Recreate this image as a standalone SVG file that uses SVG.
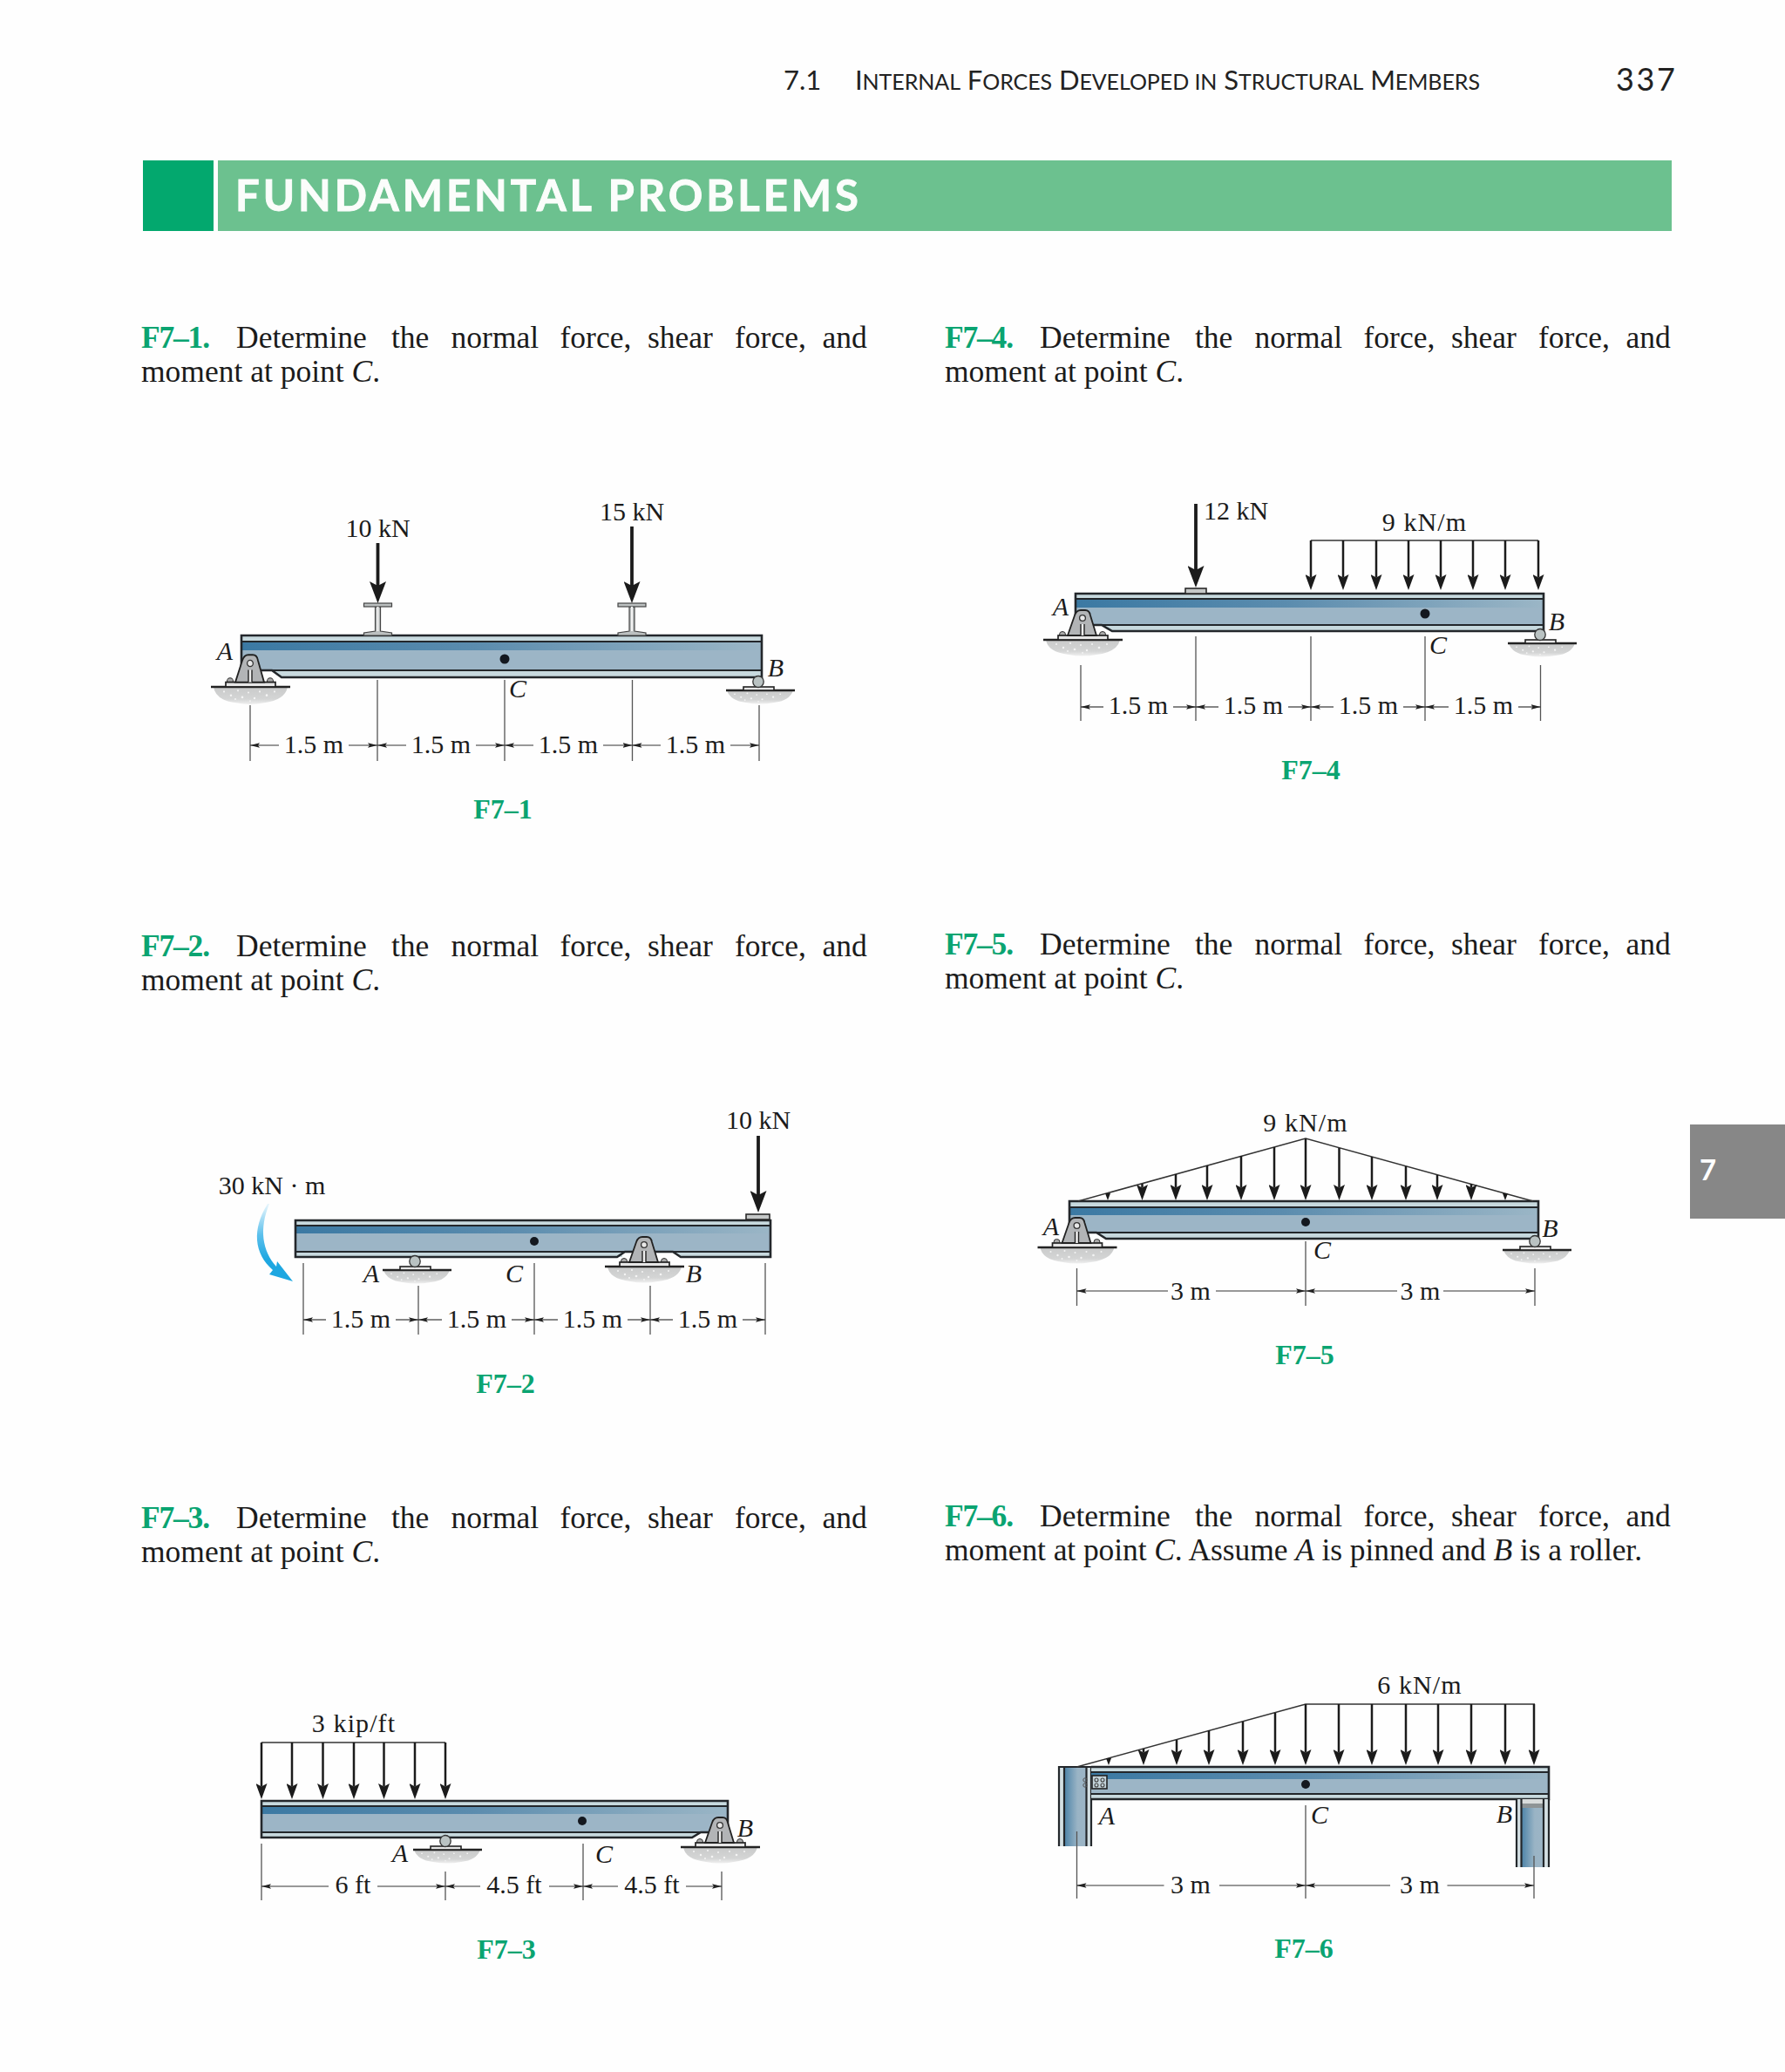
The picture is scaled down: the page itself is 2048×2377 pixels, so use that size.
<svg xmlns="http://www.w3.org/2000/svg" xmlns:xlink="http://www.w3.org/1999/xlink" width="2048" height="2377" viewBox="0 0 2048 2377">
<style>
.s{font-family:"Liberation Serif","Times New Roman",serif;fill:#1b1b1b}
.t{font-size:30px;text-anchor:middle}
.u{font-size:30px;text-anchor:middle;letter-spacing:1.1px}
.i{font-size:30px;font-style:italic;text-anchor:middle}
.p{font-size:35.5px}
.b{font-weight:700;fill:#0aa471;letter-spacing:-1.2px}
.cap{font-size:32px;font-weight:700;fill:#0aa471;text-anchor:middle}
.h{font-family:Lato,"Open Sans",sans-serif;fill:#222}
.web{fill:#9cb5c6}
.fl{fill:#c7d9de}
.band{fill:url(#band)}
.ol{fill:none;stroke:#23272b;stroke-width:2.6}
.in{fill:none;stroke:#23272b;stroke-width:2.2}
.dot{fill:#14181f}
.ext{stroke:#555;stroke-width:1.3;fill:none}
.dim{stroke:#333;stroke-width:1.2;fill:none}
.dl{marker-start:url(#da)}
.dr{marker-end:url(#da)}
.big{stroke:#1b1b1b;stroke-width:3.8;fill:none;marker-end:url(#ah)}
.sm{stroke:#1b1b1b;stroke-width:2.5;fill:none;marker-end:url(#as)}
.load{stroke:#333;stroke-width:1.5;fill:none}
.pl{fill:#c5c8c8;stroke:#2a2a2a;stroke-width:1.6}
.gl{stroke:#222;stroke-width:2.4;fill:none}
</style>
<defs>
<linearGradient id="band" x1="0" x2="1" y1="0" y2="0"><stop offset="0" stop-color="#3b79a3"/><stop offset=".45" stop-color="#5b8cae"/><stop offset="1" stop-color="#9bb6c6"/></linearGradient>
<linearGradient id="gnd" x1="0" x2="0" y1="0" y2="1"><stop offset="0" stop-color="#c9caca"/><stop offset=".7" stop-color="#d4d5d5"/><stop offset="1" stop-color="#f0f0f0"/></linearGradient>
<linearGradient id="col" x1="0" x2="1" y1="0" y2="0"><stop offset="0" stop-color="#4c83a8"/><stop offset=".6" stop-color="#9ab4c5"/><stop offset="1" stop-color="#9cb5c6"/></linearGradient>
<linearGradient id="mom" gradientUnits="userSpaceOnUse" x1="308" y1="1382" x2="308" y2="1445"><stop offset="0" stop-color="#e6f5fc"/><stop offset=".55" stop-color="#5cc0ec"/><stop offset="1" stop-color="#1ea7e1"/></linearGradient>
<marker id="da" viewBox="0 -3 11 6" refX="11" refY="0" markerWidth="11" markerHeight="6" markerUnits="userSpaceOnUse" orient="auto-start-reverse"><path d="M0-2.800L11 0L0 2.800L2 0Z" fill="#222"/></marker>
<marker id="ah" viewBox="0 -9.500 25 19" refX="5" refY="0" markerWidth="25" markerHeight="19" markerUnits="userSpaceOnUse" orient="auto"><path d="M0-9.500L25 0L0 9.500L5 0Z" fill="#1b1b1b"/></marker>
<marker id="as" viewBox="0 -6.500 18 13" refX="3.500" refY="0" markerWidth="18" markerHeight="13" markerUnits="userSpaceOnUse" orient="auto"><path d="M0-6.500L18 0L0 6.500L3.500 0Z" fill="#1b1b1b"/></marker>
<g id="specks" fill="#f4f4f4"><circle cx="-30" cy="5" r="1"/><circle cx="-22" cy="9" r="1.2"/><circle cx="-14" cy="4" r="1"/><circle cx="-9" cy="11" r="1.3"/><circle cx="-2" cy="6" r="1"/><circle cx="5" cy="12" r="1.2"/><circle cx="11" cy="5" r="1"/><circle cx="19" cy="9" r="1.3"/><circle cx="28" cy="5" r="1"/><circle cx="-17" cy="13" r="1"/><circle cx="0" cy="15" r=".9"/></g>
<g id="pin">
<path d="M-42 0Q-40 14-16 17Q0 20 16 17Q40 14 43 0Z" fill="url(#gnd)"/><use href="#specks"/>
<path class="gl" d="M-45 0H46"/>
<circle cx="-23" cy="-6" r="3.500" fill="#aaa" stroke="#333"/><circle cx="23" cy="-6" r="3.500" fill="#aaa" stroke="#333"/>
<rect x="-28" y="-5" width="57" height="5" fill="#e6e6e6" stroke="#222" stroke-width="1.7"/>
<path d="M-17-5L-9-28Q-7-34-2-34H3Q8-34 9-28L16-5Z" fill="#b2b4b6" stroke="#222" stroke-width="1.8"/>
<circle cx="0" cy="-25" r="3.400" fill="#e8e8e8" stroke="#333" stroke-width="1.300"/>
<rect x="-2" y="-18" width="4" height="13" fill="#eee"/><path d="M-2-18V-5M2-18V-5" stroke="#222" stroke-width="1.400"/>
</g>
<g id="roller">
<path d="M-36 0Q-32 12-14 14Q2 17 18 14Q36 12 40 0Z" fill="url(#gnd)"/><use href="#specks" transform="scale(.9 .85)"/>
<path class="gl" d="M-37 0H42"/>
<rect x="-17" y="-4" width="35" height="4" fill="#e6e6e6" stroke="#222" stroke-width="1.600"/>
<ellipse cx="0" cy="-10" rx="6.200" ry="6.500" fill="#b9c2c2" stroke="#333" stroke-width="1.300"/>
</g>
<g id="ibeam">
<path d="M-3-33V-5L-16-3V0H16V-3L3-5V-33Z" fill="#bcc0c0" stroke="#444" stroke-width="1.200"/>
<rect x="-16" y="-37" width="32" height="4" fill="#bcc0c0" stroke="#444" stroke-width="1.200"/>
<path d="M0-33V-5" stroke="#f2f2f2" stroke-width="2"/>
</g>
</defs>
<rect id="page" width="2048" height="2377" fill="#fefefe"/>

<g id="header">
<text class="h" x="899" y="103" font-size="31">7.1</text>
<text class="h" x="981" y="103" font-size="31" textLength="717" lengthAdjust="spacing">I<tspan font-size="25">NTERNAL</tspan> F<tspan font-size="25">ORCES</tspan> D<tspan font-size="25">EVELOPED IN</tspan> S<tspan font-size="25">TRUCTURAL</tspan> M<tspan font-size="25">EMBERS</tspan></text>
<text class="h" x="1854" y="104" font-size="36" textLength="68" lengthAdjust="spacing">337</text>
</g>
<g id="banner">
<rect x="164" y="184" width="81" height="81" fill="#03a86e"/>
<rect x="250" y="184" width="1668" height="81" fill="#6cc18f"/>
<text x="270" y="242" font-family="Lato,'Open Sans',sans-serif" font-weight="700" font-size="49" fill="#fbfdfb" stroke="#fbfdfb" stroke-width=".9" textLength="715" lengthAdjust="spacing">FUNDAMENTAL PROBLEMS</text>
</g>
<g id="tab">
<rect x="1939" y="1290" width="109" height="108" fill="#878787"/>
<text x="1950" y="1354" font-family="Lato,'Open Sans',sans-serif" font-weight="700" font-size="33" fill="#fff">7</text>
</g>

<g id="problem-text">
<text class="s p" y="399"><tspan class="b" x="162">F7–1.</tspan><tspan x="271">Determine</tspan><tspan x="449">the</tspan><tspan x="517.600">normal</tspan><tspan x="642.500">force,</tspan><tspan x="743">shear</tspan><tspan x="843">force,</tspan><tspan x="943.600">and</tspan></text>
<text class="s p" x="162" y="438">moment at point <tspan font-style="italic">C</tspan>.</text>
<text class="s p" y="399"><tspan class="b" x="1084">F7–4.</tspan><tspan x="1193">Determine</tspan><tspan x="1371">the</tspan><tspan x="1439.600">normal</tspan><tspan x="1564.500">force,</tspan><tspan x="1665">shear</tspan><tspan x="1765">force,</tspan><tspan x="1865.600">and</tspan></text>
<text class="s p" x="1084" y="438">moment at point <tspan font-style="italic">C</tspan>.</text>
<text class="s p" y="1097"><tspan class="b" x="162">F7–2.</tspan><tspan x="271">Determine</tspan><tspan x="449">the</tspan><tspan x="517.600">normal</tspan><tspan x="642.500">force,</tspan><tspan x="743">shear</tspan><tspan x="843">force,</tspan><tspan x="943.600">and</tspan></text>
<text class="s p" x="162" y="1136">moment at point <tspan font-style="italic">C</tspan>.</text>
<text class="s p" y="1095"><tspan class="b" x="1084">F7–5.</tspan><tspan x="1193">Determine</tspan><tspan x="1371">the</tspan><tspan x="1439.600">normal</tspan><tspan x="1564.500">force,</tspan><tspan x="1665">shear</tspan><tspan x="1765">force,</tspan><tspan x="1865.600">and</tspan></text>
<text class="s p" x="1084" y="1134">moment at point <tspan font-style="italic">C</tspan>.</text>
<text class="s p" y="1753"><tspan class="b" x="162">F7–3.</tspan><tspan x="271">Determine</tspan><tspan x="449">the</tspan><tspan x="517.600">normal</tspan><tspan x="642.500">force,</tspan><tspan x="743">shear</tspan><tspan x="843">force,</tspan><tspan x="943.600">and</tspan></text>
<text class="s p" x="162" y="1792">moment at point <tspan font-style="italic">C</tspan>.</text>
<text class="s p" y="1751"><tspan class="b" x="1084">F7–6.</tspan><tspan x="1193">Determine</tspan><tspan x="1371">the</tspan><tspan x="1439.600">normal</tspan><tspan x="1564.500">force,</tspan><tspan x="1665">shear</tspan><tspan x="1765">force,</tspan><tspan x="1865.600">and</tspan></text>
<text class="s p" x="1084" y="1790" textLength="800" lengthAdjust="spacing">moment at point <tspan font-style="italic">C</tspan>. Assume <tspan font-style="italic">A</tspan> is pinned and <tspan font-style="italic">B</tspan> is a roller.</text>
</g>

<!-- F7-1 -->
<g id="f71-beam">
<rect class="web" x="277" y="736" width="597" height="33"/><rect class="band" x="277" y="736" width="597" height="10"/>
<rect class="fl" x="277" y="729" width="597" height="7"/><path class="fl" d="M312 769L323 777H874V769Z"/>
<path class="ol" d="M277 769V729H874V777H323L312 769H277"/><path class="in" d="M277 736H874M312 769H874"/>
<ellipse class="dot" cx="579" cy="756" rx="5.500" ry="5.500"/>
</g>
<g id="f71-stub1"><use href="#ibeam" transform="translate(433.500 729)"/></g>
<g id="f71-stub2"><use href="#ibeam" transform="translate(725 729)"/></g>
<g id="f71-pinA"><use href="#pin" transform="translate(287 788) scale(1 1.080)"/></g>
<g id="f71-rollerB"><use href="#roller" transform="translate(870 792)"/></g>

<!-- F7-4 -->
<g id="f74-beam">
<rect class="web" x="1234" y="687" width="537" height="30"/><rect class="band" x="1234" y="687" width="537" height="10"/>
<rect class="fl" x="1234" y="681" width="537" height="6"/><path class="fl" d="M1264 717L1276 724H1771V717Z"/>
<path class="ol" d="M1234 717V681H1771V724H1276L1264 717H1234"/><path class="in" d="M1234 687H1771M1264 717H1771"/>
<ellipse class="dot" cx="1635" cy="704" rx="5.500" ry="5.500"/>
<rect class="pl" x="1360" y="675" width="24" height="6"/>
</g>
<g id="f74-pinA"><use href="#pin" transform="translate(1242 734)"/></g>
<g id="f74-rollerB"><use href="#roller" transform="translate(1767 738)"/></g>

<!-- F7-2 -->
<g id="f72-beam">
<rect class="web" x="339" y="1406" width="545" height="30"/><rect class="band" x="339" y="1406" width="545" height="9"/>
<rect class="fl" x="339" y="1400" width="545" height="6"/><rect class="fl" x="339" y="1436" width="375" height="6"/><path class="fl" d="M772 1436L781 1442H884V1436Z"/>
<path class="ol" d="M339 1400H884V1442H781L772 1436H717L708 1442H339Z"/><path class="in" d="M339 1406H884M339 1436H884"/>
<ellipse class="dot" cx="613" cy="1424" rx="5" ry="5"/>
<rect class="pl" x="856" y="1393" width="27" height="6"/>
</g>
<g id="f72-rollerA"><use href="#roller" transform="translate(476 1457)"/></g>
<g id="f72-pinB"><use href="#pin" transform="translate(739 1453)"/></g>
<path id="f72-moment" fill="url(#mom)" d="M307 1381C289 1410 291 1438 313 1457L309 1462L336 1470L318 1447L317 1453C301 1435 297 1410 309 1381Z"/>

<!-- F7-5 -->
<g id="f75-beam">
<rect class="web" x="1227" y="1385" width="538" height="29"/><rect class="band" x="1227" y="1385" width="538" height="9"/>
<rect class="fl" x="1227" y="1378" width="538" height="7"/><path class="fl" d="M1258 1414L1269 1421H1765V1414Z"/>
<path class="ol" d="M1227 1414V1378H1765V1421H1269L1258 1414H1227"/><path class="in" d="M1227 1385H1765M1258 1414H1765"/>
<ellipse class="dot" cx="1498" cy="1402" rx="5" ry="5"/>
</g>
<g id="f75-pinA"><use href="#pin" transform="translate(1235.500 1431)"/></g>
<g id="f75-rollerB"><use href="#roller" transform="translate(1761 1434)"/></g>

<!-- F7-3 -->
<g id="f73-beam">
<rect class="web" x="300" y="2072" width="535" height="30"/><rect class="band" x="300" y="2072" width="535" height="9"/>
<rect class="fl" x="300" y="2066" width="535" height="6"/><path class="fl" d="M300 2102V2108H794L804 2102Z"/>
<path class="ol" d="M835 2102V2066H300V2108H794L804 2102H835"/><path class="in" d="M300 2072H835M300 2102H804"/>
<ellipse class="dot" cx="668" cy="2089" rx="5" ry="5"/>
</g>
<g id="f73-rollerA"><use href="#roller" transform="translate(511 2122)"/></g>
<g id="f73-pinB"><use href="#pin" transform="translate(826 2119)"/></g>

<!-- F7-6 -->
<g id="f76-columnA">
<rect x="1215" y="2027" width="37" height="91" fill="#d4e0e4"/><rect x="1221" y="2027" width="25.500" height="91" fill="url(#col)"/>
<path class="in" d="M1215 2118V2027H1252V2118M1221 2027V2118M1246.500 2027V2118"/>
<circle cx="1245" cy="2042" r="2.200" fill="none" stroke="#555"/><circle cx="1245" cy="2048" r="2.200" fill="none" stroke="#555"/>
</g>
<g id="f76-beam">
<rect class="web" x="1252" y="2033" width="525" height="25"/><rect class="band" x="1252" y="2033" width="525" height="8"/>
<rect class="fl" x="1252" y="2027" width="525" height="6"/><rect class="fl" x="1252" y="2058" width="525" height="6"/>
<path class="ol" d="M1252 2027H1777V2064H1252"/><path class="in" d="M1252 2033H1777M1252 2058H1777"/>
<ellipse class="dot" cx="1498" cy="2047" rx="5" ry="5"/>
</g>
<g id="f76-joint">
<rect x="1253" y="2037" width="17" height="15" fill="#c3d3da" stroke="#222" stroke-width="1.600"/>
<g fill="none" stroke="#444" stroke-width="1.100"><circle cx="1258" cy="2042" r="2"/><circle cx="1265" cy="2042" r="2"/><circle cx="1258" cy="2048" r="2"/><circle cx="1265" cy="2048" r="2"/></g>
</g>
<g id="f76-columnB">
<rect x="1740" y="2064" width="37" height="78" fill="#d4e0e4"/><rect x="1745.500" y="2074" width="25.500" height="68" fill="url(#col)"/>
<rect x="1745.500" y="2064" width="25.500" height="5" fill="#d8dcdc"/><rect x="1745.500" y="2069" width="25.500" height="5" fill="#8e9496"/>
<path class="in" d="M1740 2064V2142M1745.500 2064V2142M1771 2064V2142M1777 2064V2142"/>
</g>

<g id="connectors">
<g id="f71-conn">
<path class="ext" d="M287 809V873M433 780V873M579 780V873M725.500 780V873M871 809V873"/>
<path class="dim dl" d="M287 855H320"/><path class="dim dl" d="M433 855H466"/><path class="dim dl" d="M579 855H612"/><path class="dim dl" d="M725.500 855H758"/>
<path class="dim dr" d="M400 855H433"/><path class="dim dr" d="M546 855H579"/><path class="dim dr" d="M692 855H725.500"/><path class="dim dr" d="M838 855H871"/>
<path class="big" d="M433.500 623V672"/><path class="big" d="M725 604V672"/>
</g>
<g id="f74-conn">
<path class="ext" d="M1240 763V827M1372 730V827M1504 730V827M1635 730V827M1767.500 763V827"/>
<path class="dim dl" d="M1240 811H1266"/><path class="dim dl" d="M1372 811H1398"/><path class="dim dl" d="M1504 811H1530"/><path class="dim dl" d="M1635 811H1662"/>
<path class="dim dr" d="M1346 811H1372"/><path class="dim dr" d="M1478 811H1504"/><path class="dim dr" d="M1610 811H1635"/><path class="dim dr" d="M1742 811H1767.500"/>
<path class="big" d="M1372 578V654"/>
<path class="load" d="M1504 620H1765"/>
<path class="sm" d="M1504 620V662.500"/><path class="sm" d="M1541 620V662.500"/><path class="sm" d="M1579 620V662.500"/><path class="sm" d="M1616 620V662.500"/><path class="sm" d="M1653 620V662.500"/><path class="sm" d="M1690 620V662.500"/><path class="sm" d="M1727 620V662.500"/><path class="sm" d="M1765 620V662.500"/>
</g>
<g id="f72-conn">
<path class="ext" d="M348 1449V1531M480 1475V1531M613 1449V1531M746 1475V1531M878 1449V1531"/>
<path class="dim dl" d="M348 1514H374"/><path class="dim dl" d="M480 1514H507"/><path class="dim dl" d="M613 1514H640"/><path class="dim dl" d="M746 1514H772"/>
<path class="dim dr" d="M454 1514H480"/><path class="dim dr" d="M587 1514H613"/><path class="dim dr" d="M720 1514H746"/><path class="dim dr" d="M852 1514H878"/>
<path class="big" d="M870 1303V1371"/>
</g>
<g id="f75-conn">
<path class="ext" d="M1235.500 1455V1498M1498 1424V1498M1761 1455V1498"/>
<path class="dim dl" d="M1235.500 1481H1340"/><path class="dim dl" d="M1498 1481H1603"/>
<path class="dim dr" d="M1395 1481H1498"/><path class="dim dr" d="M1656 1481H1761"/>
<path class="load" d="M1237 1378L1498 1306L1759 1378"/>
<path class="sm" d="M1310.500 1358V1362.500"/><path class="sm" d="M1349 1347V1362.500"/><path class="sm" d="M1385 1337V1362.500"/><path class="sm" d="M1424 1326V1362.500"/><path class="sm" d="M1462 1316V1362.500"/><path class="sm" d="M1498 1306V1362.500"/><path class="sm" d="M1536.500 1317V1362.500"/><path class="sm" d="M1574 1327V1362.500"/><path class="sm" d="M1613 1338V1362.500"/><path class="sm" d="M1649 1348V1362.500"/><path class="sm" d="M1688 1358V1362.500"/>
<path d="M1268 1369L1274 1369L1271 1377Z" fill="#1b1b1b"/><path d="M1724 1369L1730 1369L1727 1377Z" fill="#1b1b1b"/>
</g>
<g id="f73-conn">
<path class="ext" d="M300 2115V2180M511 2147V2180M669 2115V2180M828 2147V2180"/>
<path class="dim dl" d="M300 2164H377"/><path class="dim dl" d="M511 2164H551"/><path class="dim dl" d="M669 2164H709"/>
<path class="dim dr" d="M433 2164H511"/><path class="dim dr" d="M630 2164H669"/><path class="dim dr" d="M787 2164H828"/>
<path class="load" d="M300 1999H511"/>
<path class="sm" d="M300 1999V2049.500"/><path class="sm" d="M335 1999V2049.500"/><path class="sm" d="M370.500 1999V2049.500"/><path class="sm" d="M406 1999V2049.500"/><path class="sm" d="M440.500 1999V2049.500"/><path class="sm" d="M476 1999V2049.500"/><path class="sm" d="M511 1999V2049.500"/>
</g>
<g id="f76-conn">
<path class="ext" d="M1235.500 2101V2178M1498 2071V2178M1760 2129V2178"/>
<path class="dim dl" d="M1235.500 2163H1335.500"/><path class="dim dl" d="M1498 2163H1595"/>
<path class="dim dr" d="M1399 2163H1498"/><path class="dim dr" d="M1660.500 2163H1760"/>
<path class="load" d="M1235.500 2027L1498 1955H1761"/>
<path class="sm" d="M1312 2006V2010.500"/><path class="sm" d="M1350 1996V2010.500"/><path class="sm" d="M1387 1985V2010.500"/><path class="sm" d="M1426 1975V2010.500"/><path class="sm" d="M1463 1965V2010.500"/><path class="sm" d="M1498 1955V2010.500"/><path class="sm" d="M1536 1955V2010.500"/><path class="sm" d="M1574 1955V2010.500"/><path class="sm" d="M1613 1955V2010.500"/><path class="sm" d="M1650 1955V2010.500"/><path class="sm" d="M1688 1955V2010.500"/><path class="sm" d="M1727 1955V2010.500"/><path class="sm" d="M1760 1955V2010.500"/>
<path d="M1269 2017L1275 2017L1272 2025Z" fill="#1b1b1b"/>
</g>
</g>

<g id="labels" class="s">
<text class="s t" x="433.500" y="616">10 kN</text><text class="s t" x="725" y="597">15 kN</text>
<text class="s t" x="360" y="864">1.5 m</text><text class="s t" x="506" y="864">1.5 m</text><text class="s t" x="652" y="864">1.5 m</text><text class="s t" x="798" y="864">1.5 m</text>
<text class="s i" x="258" y="757">A</text><text class="s i" x="890" y="776">B</text><text class="s i" x="594" y="800">C</text>
<text class="s cap" x="577" y="939">F7–1</text>

<text class="s" font-size="30" x="1381" y="596">12 kN</text><text class="s u" x="1634.500" y="609">9 kN/m</text>
<text class="s t" x="1306" y="819">1.5 m</text><text class="s t" x="1438" y="819">1.5 m</text><text class="s t" x="1570" y="819">1.5 m</text><text class="s t" x="1702" y="819">1.5 m</text>
<text class="s i" x="1217" y="706">A</text><text class="s i" x="1786" y="723">B</text><text class="s i" x="1650" y="750">C</text>
<text class="s cap" x="1504" y="894">F7–4</text>

<text class="s t" x="870" y="1295">10 kN</text><text class="s t" x="312" y="1370">30 kN · m</text>
<text class="s t" x="414" y="1523">1.5 m</text><text class="s t" x="547" y="1523">1.5 m</text><text class="s t" x="680" y="1523">1.5 m</text><text class="s t" x="812" y="1523">1.5 m</text>
<text class="s i" x="426" y="1471">A</text><text class="s i" x="590" y="1471">C</text><text class="s i" x="796" y="1471">B</text>
<text class="s cap" x="580" y="1598">F7–2</text>

<text class="s u" x="1498" y="1298">9 kN/m</text>
<text class="s t" x="1366" y="1491">3 m</text><text class="s t" x="1629.500" y="1491">3 m</text>
<text class="s i" x="1206" y="1417">A</text><text class="s i" x="1778.500" y="1419">B</text><text class="s i" x="1517" y="1444">C</text>
<text class="s cap" x="1497" y="1565">F7–5</text>

<text class="s u" x="406" y="1987">3 kip/ft</text>
<text class="s t" x="405" y="2172">6 ft</text><text class="s t" x="590" y="2172">4.5 ft</text><text class="s t" x="748" y="2172">4.5 ft</text>
<text class="s i" x="459" y="2136">A</text><text class="s i" x="693" y="2137">C</text><text class="s i" x="855" y="2107">B</text>
<text class="s cap" x="581" y="2247">F7–3</text>

<text class="s u" x="1629" y="1943">6 kN/m</text>
<text class="s t" x="1366" y="2172">3 m</text><text class="s t" x="1629" y="2172">3 m</text>
<text class="s i" x="1270" y="2093">A</text><text class="s i" x="1726" y="2091">B</text><text class="s i" x="1514" y="2092">C</text>
<text class="s cap" x="1496" y="2246">F7–6</text>
</g>
</svg>
